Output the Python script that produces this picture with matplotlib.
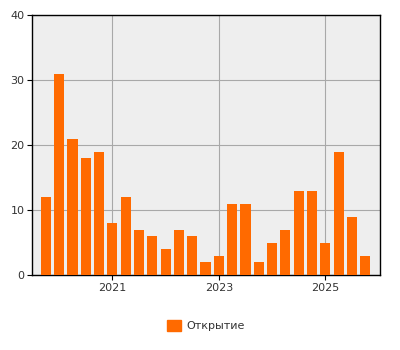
import matplotlib
matplotlib.use("Agg")
import matplotlib.pyplot as plt
from matplotlib.patches import Patch

# Quarterly data, first quarter 2019 Q4, last 2025 Q4
start_year = 2019.75
values = [12, 31, 21, 18, 19, 8, 12, 7, 6, 4, 7, 6, 2, 3, 11, 11, 2, 5, 7, 13, 13, 5, 19, 9, 3]
series_name = "Открытие"
x_ticks = [2021, 2023, 2025]
x_tick_labels = ["2021", "2023", "2025"]
y_ticks = [0, 10, 20, 30, 40]

xs = [start_year + 0.25 * i for i in range(len(values))]

fig = plt.figure(figsize=(4, 3.5), dpi=100)
ax = fig.add_axes([0.08, 0.214, 0.869, 0.743])
ax.set_facecolor("#eeeeee")
ax.bar(xs, values, width=0.19, color="#ff6a00", zorder=3)

ax.set_xlim(2019.49, 2026.02)
ax.set_ylim(0, 40)
ax.set_xticks(x_ticks)
ax.set_xticklabels(x_tick_labels)
ax.set_yticks(y_ticks)
ax.grid(True, color="#a8a8a8", linewidth=0.8, zorder=1)
for s in ax.spines.values():
    s.set_color("black")
    s.set_linewidth(1.0)
ax.tick_params(axis="both", labelsize=8, colors="#333333", length=3.5, width=0.8, pad=2)
ax.tick_params(axis="both", color="black")

fig.legend(handles=[Patch(color="#ff6a00", label=series_name)],
           loc="center", bbox_to_anchor=(0.515, 0.07), frameon=False,
           fontsize=8, handlelength=1.2, handleheight=1.2, handletextpad=0.5,
           labelcolor="#333333")

fig.savefig("out.png", dpi=100)
